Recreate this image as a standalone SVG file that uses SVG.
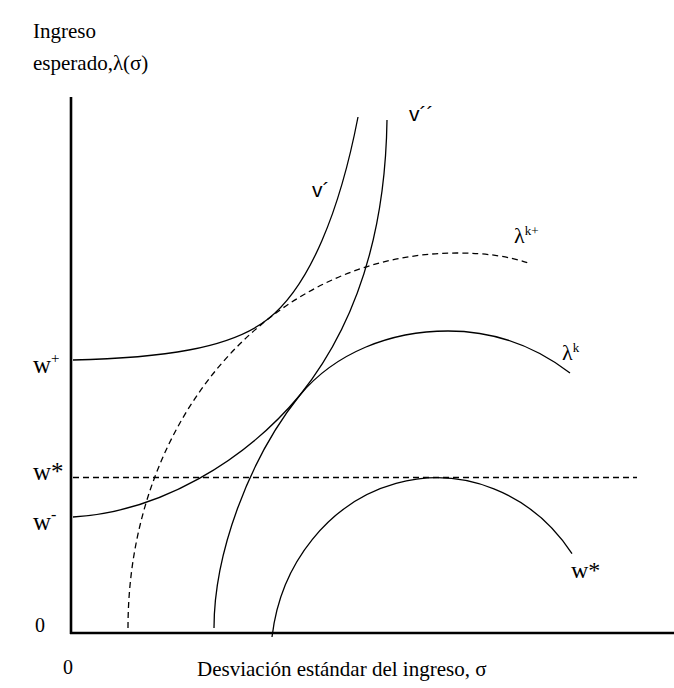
<svg xmlns="http://www.w3.org/2000/svg" width="674" height="688" viewBox="0 0 674 688">
<style>
.ax{stroke:#000;stroke-width:2.6;fill:none}
.c{stroke:#000;stroke-width:1.3;fill:none}
.d{stroke:#000;stroke-width:1.3;fill:none;stroke-dasharray:6 4}
.s{font-family:"Liberation Serif","Times New Roman",serif;fill:#000}
.ss{font-family:"Liberation Sans",Arial,sans-serif;fill:#000}
</style>
<rect width="674" height="688" fill="#fff"/>
<g id="axes">
<line class="ax" x1="71" y1="97" x2="71" y2="634"/>
<line class="ax" x1="70" y1="633" x2="674" y2="633"/>
</g>
<g id="connectors">
<path id="w-star-line" class="d" d="M73,477.5 H637"/>
<path id="lambda-k-plus" class="d" d="M128,628 C128,418 272,253 457,253 Q500,253 528,263"/>
<path id="v-prime" class="c" d="M73,360 C160,358 230,349 268,319 C310,286 340,210 358,117"/>
<path id="v-double-prime" class="c" d="M214,628 C214,555 248,460 300,395 C340,345 385,260 387,120"/>
<path id="lambda-k" class="c" d="M73,517 C160,512 245,461 300,395 C335,353 390,331 448,331 C500,331 540,350 570,373"/>
<path id="w-star-curve" class="c" d="M272,637 A166.3,182 0 0 1 572,553.6"/>
</g>
<g id="labels">
<text class="s" x="33" y="38" font-size="21">Ingreso</text>
<text class="s" x="33" y="70" font-size="21">esperado,λ(σ)</text>
<text class="s" x="33" y="373" font-size="25">w<tspan font-size="15" dy="-10">+</tspan></text>
<text class="s" x="33" y="480" font-size="25">w*</text>
<text class="s" x="33" y="530" font-size="25">w<tspan font-size="16" dy="-10">-</tspan></text>
<text class="s" x="35" y="632" font-size="20">0</text>
<text class="s" x="63" y="674" font-size="20">0</text>
<text class="s" x="197" y="676" font-size="21">Desviación estándar del ingreso, σ</text>
<text class="ss" x="312" y="197" font-size="21">v´</text>
<text class="ss" x="409" y="121" font-size="21">v´´</text>
<text class="s" x="514" y="243" font-size="22">λ<tspan font-size="13" dy="-8">k+</tspan></text>
<text class="s" x="562" y="360" font-size="22">λ<tspan font-size="13" dy="-8">k</tspan></text>
<text class="s" x="571" y="578" font-size="24">w*</text>
</g>
</svg>
